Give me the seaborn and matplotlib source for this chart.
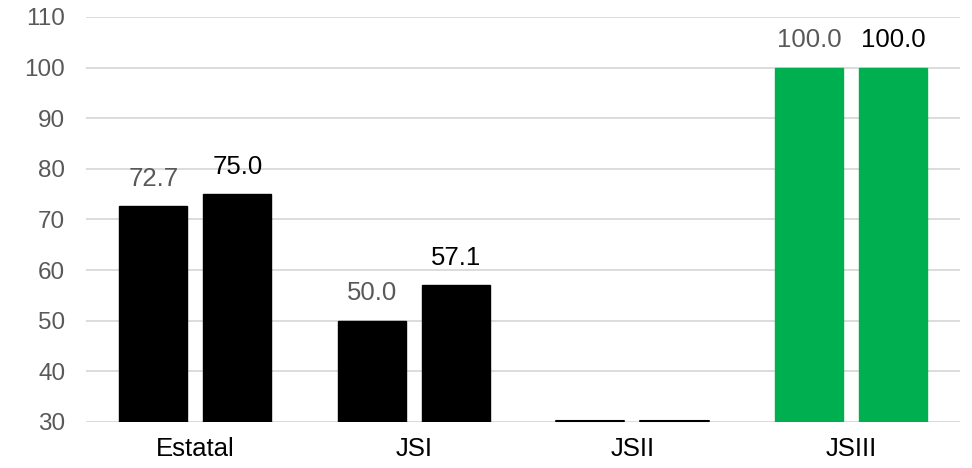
import numpy as np
import pandas as pd
import seaborn as sns
import matplotlib.pyplot as plt

categories = ["Estatal", "JSI", "JSII", "JSIII"]
series_a = [72.7, 50.0, 0.0, 100.0]
series_b = [75.0, 57.1, 0.0, 100.0]
series_names = ["A", "B"]

df = pd.DataFrame({
    "cat": categories * 2,
    "serie": [series_names[0]] * 4 + [series_names[1]] * 4,
    "val": series_a + series_b,
})

sns.set_style("white")
plt.rcParams["font.family"] = ["Liberation Sans", "DejaVu Sans"]

fig = plt.figure(figsize=(9.72, 4.68), dpi=100)
ax = fig.add_axes([0.0885, 0.0983, 0.8995, 0.8654])

sns.barplot(data=df, x="cat", y="val", hue="serie", order=categories,
            hue_order=series_names, palette=["black", "black"],
            width=0.77, gap=0.19, legend=False, ax=ax, zorder=2)

ymin = 30
ax.set_ylim(ymin, 110)
ax.set_xlim(-0.5, 3.5)
ax.set_yticks(range(30, 111, 10))
ax.grid(axis="y", color="#D9D9D9", linewidth=1.3, zorder=0)
ax.set_axisbelow(True)
for s in ax.spines.values():
    s.set_visible(False)
ax.tick_params(axis="y", length=0, labelsize=17.5, labelcolor="#595959", pad=15)
ax.tick_params(axis="x", length=0, labelsize=18.5, labelcolor="black", pad=11)
ax.set_xlabel("")
ax.set_ylabel("")

# colour per category, labels per series
label_colors = ["#595959", "black"]
vals = [series_a, series_b]
for si, cont in enumerate(ax.containers):
    for ci, patch in enumerate(cont.patches):
        v = vals[si][ci]
        color = "#00B050" if categories[ci] == "JSIII" else "black"
        patch.set_facecolor(color)
        patch.set_edgecolor(color)
        x0 = patch.get_x()
        w = patch.get_width()
        if v <= ymin:
            ax.plot([x0, x0 + w], [ymin + 0.25, ymin + 0.25], color="black",
                    linewidth=1.5, zorder=3, clip_on=False)
        else:
            ax.annotate(f"{v:.1f}", (x0 + w / 2, v), xytext=(0, 11),
                        textcoords="offset points", ha="center", va="bottom",
                        fontsize=18.5, color=label_colors[si])

fig.savefig("out.png", dpi=100)
